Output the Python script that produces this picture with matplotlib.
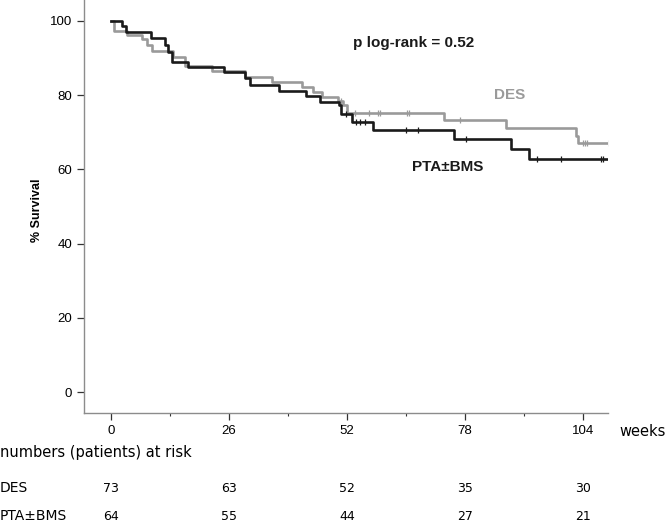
import matplotlib.pyplot as plt
import numpy as np

# Kaplan-Meier curves (weeks, % survival after each drop)
des_t = [0, 0.8, 3.5, 6.8, 7.9, 9.0, 13.8, 16.4, 22.2, 29.6, 35.4, 42.0, 44.6,
         46.4, 50.0, 51.2, 51.9, 73.4, 86.9, 102.4, 102.9]
des_s = [100, 97.3, 96.1, 95.0, 93.5, 91.9, 90.3, 87.8, 86.4, 84.9, 83.6, 82.1, 80.9,
         79.5, 78.4, 77.3, 75.2, 73.3, 71.1, 69.1, 67.0]
des_cens = [50.6, 53.8, 56.9, 58.9, 59.3, 65.3, 65.7, 76.9, 104.0, 104.4, 104.8, 109.7]
des_end = 109.7

pta_t = [0, 2.5, 3.4, 8.8, 12.0, 12.6, 13.4, 17.1, 25.0, 29.5, 30.7, 37.0, 43.0,
         46.0, 50.2, 50.7, 53.0, 57.7, 75.5, 88.2, 92.1]
pta_s = [100, 98.5, 96.9, 95.4, 93.5, 91.5, 89.0, 87.6, 86.1, 84.6, 82.7, 81.2, 79.7,
         78.2, 77.3, 75.0, 72.8, 70.6, 68.1, 65.4, 62.7]
pta_cens = [51.8, 54.0, 54.9, 56.0, 65.0, 67.6, 78.3, 93.9, 99.2, 108.0, 108.4]
pta_end = 109.7

# numbers at risk
risk_weeks = [0, 26, 52, 78, 104]
risk_des = [73, 63, 52, 35, 30]
risk_pta = [64, 55, 44, 27, 21]

GRAY = '#9a9a9a'
BLACK = '#1a1a1a'


def km_line(ax, t, s, cens, t_end, color, z):
    tt = list(t) + [t_end]
    ss = list(s) + [s[-1]]
    ax.step(tt, ss, where='post', color=color, linewidth=1.9, zorder=z)
    # censored marks on the level the curve is at
    idx = np.searchsorted(t, cens, side='right') - 1
    ax.plot(cens, np.array(s)[idx], linestyle='none', marker='|', markersize=5,
            markeredgewidth=0.9, color=color, zorder=z)


fig = plt.figure(figsize=(6.66, 5.27), dpi=100)
ax = fig.add_axes([84 / 666, 1 - 412.7 / 527, 524 / 666, 412.7 / 527])

km_line(ax, des_t, des_s, des_cens, des_end, GRAY, 2)
km_line(ax, pta_t, pta_s, pta_cens, pta_end, BLACK, 3)

ax.set_xlim(-5.88, 109.45)
ax.set_ylim(-5.49, 105.57)

for side in ['top', 'right']:
    ax.spines[side].set_visible(False)
for side in ['left', 'bottom']:
    ax.spines[side].set_color('#8c8c8c')
    ax.spines[side].set_linewidth(1.0)

ax.set_xticks(risk_weeks)
ax.set_xticks([13, 39, 65, 91], minor=True)
ax.set_yticks([0, 20, 40, 60, 80, 100])
ax.tick_params(axis='both', which='major', direction='out', length=5, width=0.9,
               color='#333333', labelsize=9.5, pad=3.5,
               labelfontfamily='Liberation Sans')
ax.tick_params(axis='x', which='minor', direction='out', length=2.5, width=0.8,
               color='#333333')

# y label
fig.text(37 / 666, 1 - 210 / 527, '% Survival', rotation=90, ha='center', va='center',
         fontsize=9, fontweight='bold', family='Liberation Sans')

# annotations inside the plot
ax.text(53.3, 94.0, 'p log-rank = 0.52', ha='left', va='center', fontsize=11,
        fontweight='bold', family='Liberation Sans', color=BLACK)
ax.text(84.4, 80.0, 'DES', ha='left', va='center', fontsize=11,
        fontweight='bold', family='Liberation Sans', color=GRAY)
ax.text(66.3, 60.6, 'PTA±BMS', ha='left', va='center', fontsize=11,
        fontweight='bold', family='Liberation Sans', color=BLACK)

# "weeks" label and risk table
fig.text(619 / 666, 1 - 431 / 527, 'weeks', ha='left', va='center', fontsize=10.5,
         family='DejaVu Sans')
fig.text(0, 1 - 452 / 527, 'numbers (patients) at risk', ha='left', va='center',
         fontsize=10.5, family='DejaVu Sans')

row_y = [1 - 488 / 527, 1 - 516.5 / 527]
for name, vals, y in [('DES', risk_des, row_y[0]), ('PTA±BMS', risk_pta, row_y[1])]:
    fig.text(0, y, name, ha='left', va='center', fontsize=10, family='DejaVu Sans')
    for w, n in zip(risk_weeks, vals):
        xf = fig.transFigure.inverted().transform(ax.transData.transform((w, 0)))[0]
        fig.text(xf, y, str(n), ha='center', va='center', fontsize=9,
                 family='DejaVu Sans')

fig.savefig('out.png', dpi=100)
